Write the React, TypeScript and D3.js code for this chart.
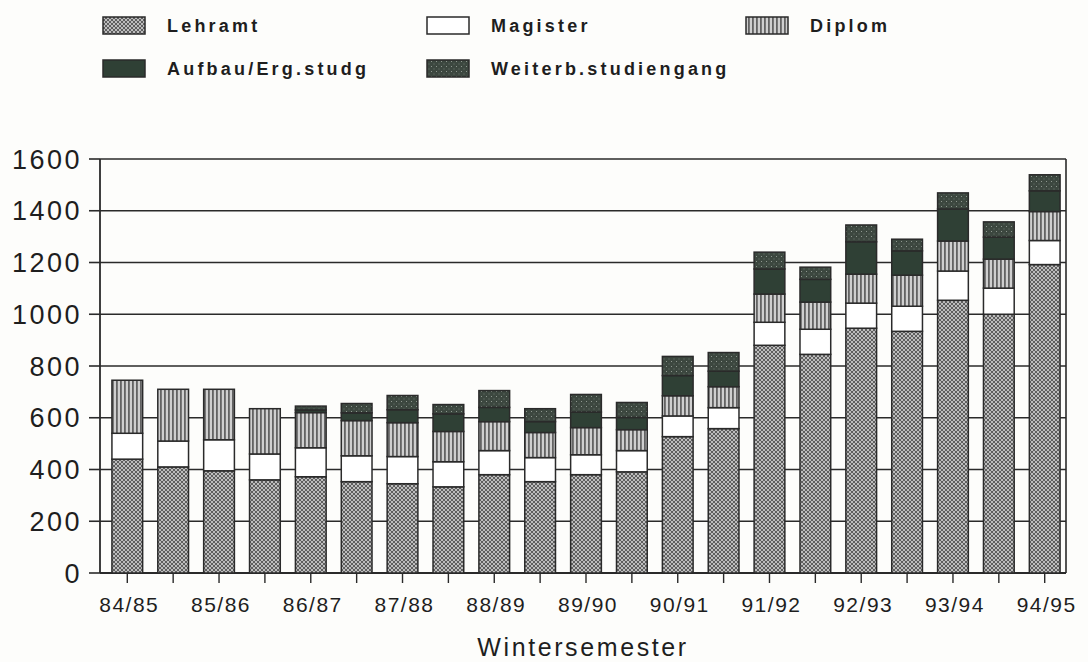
import React from "react";
import * as d3 from "d3";

// Semesters: WS = winter semester (labelled), SS = summer semester
const semesters = [
  "WS 84/85", "SS 85", "WS 85/86", "SS 86", "WS 86/87", "SS 87", "WS 87/88", "SS 88",
  "WS 88/89", "SS 89", "WS 89/90", "SS 90", "WS 90/91", "SS 91", "WS 91/92", "SS 92",
  "WS 92/93", "SS 93", "WS 93/94", "SS 94", "WS 94/95",
];
const tickLabels = ["84/85", "85/86", "86/87", "87/88", "88/89", "89/90", "90/91", "91/92", "92/93", "93/94", "94/95"];
const yTicks = [0, 200, 400, 600, 800, 1000, 1200, 1400, 1600];

const lehramt = [440, 410, 395, 360, 372, 353, 345, 333, 380, 353, 380, 391, 527, 558, 880, 845, 946, 934, 1054, 1000, 1192];
const magister = [100, 100, 120, 100, 112, 100, 105, 97, 93, 93, 77, 82, 80, 81, 89, 97, 97, 97, 113, 101, 93];
const diplom = [205, 200, 195, 175, 136, 136, 131, 117, 112, 97, 105, 81, 78, 81, 109, 105, 112, 120, 116, 112, 112];
const aufbau = [0, 0, 0, 0, 10, 30, 50, 68, 55, 42, 60, 47, 78, 60, 97, 88, 125, 94, 124, 85, 80];
const weiterb = [0, 0, 0, 0, 15, 36, 55, 36, 65, 50, 68, 58, 74, 72, 65, 47, 65, 45, 62, 59, 62];

const seriesKeys = ["Lehramt", "Magister", "Diplom", "Aufbau/Erg.studg", "Weiterb.studiengang"];
const seriesValues = [lehramt, magister, diplom, aufbau, weiterb];
const fills = ["url(#patL)", "#ffffff", "url(#patD)", "#2f4035", "url(#patW)"];

const W = 1088, H = 662;
const M = { left: 100, right: 1066, top: 159, bottom: 573 };
const FONT = "'Liberation Sans', Arial, Helvetica, sans-serif";
const INK = "#2a2a2a";

export default function App() {
  const rows = semesters.map((s, i) => {
    const r: any = { sem: s };
    seriesKeys.forEach((k, j) => (r[k] = seriesValues[j][i]));
    return r;
  });
  const stacked = d3.stack<any>().keys(seriesKeys)(rows);

  const x = d3.scaleBand<string>().domain(semesters).range([M.left, 1072]).paddingInner(0.33).paddingOuter(0.26);
  const y = d3.scaleLinear().domain([0, 1600]).range([M.bottom, M.top]);
  const bw = x.bandwidth();

  const legend = [
    { i: 0, x: 103, y: 17 },
    { i: 1, x: 427, y: 17 },
    { i: 2, x: 746, y: 17 },
    { i: 3, x: 103, y: 60 },
    { i: 4, x: 427, y: 60 },
  ];

  return (
    <svg width={W} height={H} style={{ position: "absolute", left: 0, top: 0, background: "#fdfdfb" }} fontFamily={FONT}>
      <defs>
        <pattern id="patL" width="4" height="4" patternUnits="userSpaceOnUse">
          <rect width="4" height="4" fill="#bdbdbd" />
          <path d="M0,0 L4,4 M4,0 L0,4" stroke="#555" strokeWidth="0.9" />
        </pattern>
        <pattern id="patD" width="4" height="4" patternUnits="userSpaceOnUse">
          <rect width="4" height="4" fill="#cfcfcf" />
          <rect x="0" width="1.8" height="4" fill="#636363" />
        </pattern>
        <pattern id="patW" width="5" height="5" patternUnits="userSpaceOnUse">
          <rect width="5" height="5" fill="#3c473f" />
          <rect x="1" y="1" width="1" height="1" fill="#8e978f" />
          <rect x="3.5" y="3.5" width="1" height="1" fill="#6f7a71" />
        </pattern>
      </defs>

      {/* gridlines */}
      {yTicks.map((t) => (
        <line key={t} x1={M.left} x2={M.right} y1={y(t)} y2={y(t)} stroke={INK} strokeWidth={t === 0 ? 2 : 1.6} />
      ))}
      {/* frame */}
      <line x1={M.left} x2={M.left} y1={M.top} y2={M.bottom} stroke={INK} strokeWidth={1.8} />
      <line x1={M.right} x2={M.right} y1={M.top} y2={M.bottom} stroke={INK} strokeWidth={1.6} />

      {/* bars */}
      {stacked.map((s, si) => (
        <g key={s.key}>
          {s.map((d: any, i: number) => {
            const h = y(d[0]) - y(d[1]);
            if (h <= 0) return null;
            return (
              <rect
                key={i}
                x={x(semesters[i])}
                y={y(d[1])}
                width={bw}
                height={h}
                fill={fills[si]}
                stroke={INK}
                strokeWidth={1.5}
              />
            );
          })}
        </g>
      ))}

      {/* y axis ticks & labels */}
      {yTicks.map((t) => (
        <g key={t}>
          <line x1={M.left - 11} x2={M.left} y1={y(t)} y2={y(t)} stroke={INK} strokeWidth={1.6} />
          <text x={82} y={y(t)} dy="0.36em" textAnchor="end" fontSize={27} letterSpacing={2.5} fill="#1e1e1e">
            {t}
          </text>
        </g>
      ))}

      {/* x ticks */}
      {semesters.map((s) => (
        <line key={s} x1={x(s)! + bw / 2} x2={x(s)! + bw / 2} y1={M.bottom} y2={M.bottom + 10} stroke={INK} strokeWidth={1.4} />
      ))}
      {tickLabels.map((lab, k) => {
        const s = semesters[k * 2];
        return (
          <text key={lab} x={x(s)! + bw / 2 + 2} y={612} textAnchor="middle" fontSize={21} letterSpacing={1.5} fill="#1e1e1e">
            {lab}
          </text>
        );
      })}
      <text x={583} y={656} textAnchor="middle" fontSize={25} letterSpacing={2.6} fill="#1e1e1e">
        Wintersemester
      </text>

      {/* legend */}
      {legend.map((l) => (
        <g key={l.i}>
          <rect x={l.x} y={l.y} width={42} height={17} fill={fills[l.i]} stroke={INK} strokeWidth={1.5} />
          <text x={l.x + 64} y={l.y + 15} fontSize={18} fontWeight="bold" letterSpacing={3.2} fill="#1e1e1e">
            {seriesKeys[l.i]}
          </text>
        </g>
      ))}
    </svg>
  );
}
